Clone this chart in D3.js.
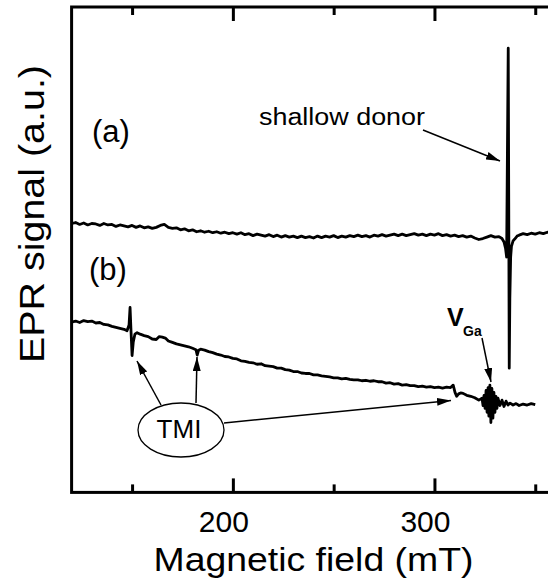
<!DOCTYPE html>
<html>
<head>
<meta charset="utf-8">
<script src="https://cdn.jsdelivr.net/npm/d3@7"></script>
<style>
  body { margin: 0; background: #fff; }
  svg { display: block; }
</style>
</head>
<body>
<div id="chart"></div>
<script>
// x-axis ticks (mT)
const majorTicks = [200, 300];
const minorTicks = [150, 250, 350];

// trace (a): [field mT, signal a.u.]
const traceA = [
  [120, 55.4], [122, 55.6], [124, 55.2], [126, 55.5], [128, 55.1], [130, 55.4], [132, 55.3], [134, 55.0],
  [136, 55.4], [138, 55.1], [140, 55.2], [142, 54.8], [144, 55.1], [146, 54.9], [148, 54.7], [150, 55.0],
  [152, 54.6], [154, 54.9], [156, 54.5], [158, 54.7], [160, 54.4], [162, 54.6], [164, 55.0], [166, 55.2],
  [168, 54.6], [170, 54.4], [172, 54.5], [174, 54.1], [176, 54.3], [178, 53.9], [180, 54.1], [182, 53.7],
  [184, 53.9], [186, 53.6], [188, 53.8], [190, 53.5], [192, 53.7], [194, 53.4], [196, 53.6], [198, 53.3],
  [200, 53.5], [202, 53.2], [204, 53.5], [206, 53.1], [208, 53.3], [210, 52.9], [212, 53.2], [214, 53.0],
  [216, 52.8], [218, 53.1], [220, 52.7], [222, 53.0], [224, 52.6], [226, 52.9], [228, 52.6], [230, 52.8],
  [232, 52.5], [234, 52.8], [236, 52.5], [238, 52.7], [240, 52.4], [242, 52.8], [244, 52.5], [246, 52.8],
  [248, 52.6], [250, 52.9], [252, 52.5], [254, 52.8], [256, 52.6], [258, 52.9], [260, 52.7], [262, 53.0],
  [264, 52.7], [266, 52.9], [268, 52.6], [270, 53.0], [272, 52.8], [274, 53.1], [276, 52.8], [278, 53.0],
  [280, 53.2], [282, 52.9], [284, 53.2], [286, 52.9], [288, 53.1], [290, 53.3], [292, 53.0], [294, 53.2],
  [296, 52.9], [298, 53.2], [300, 53.0], [302, 53.3], [304, 52.9], [306, 53.1], [308, 52.8], [310, 53.0],
  [312, 52.7], [314, 52.9], [316, 52.6], [318, 52.8], [320, 52.4], [322, 52.1], [324, 52.3], [326, 52.6],
  [328, 52.9], [330, 52.6], [332, 52.7], [333.5, 52.3], [334.5, 51.6], [335.3, 50.2], [335.8, 48.5],
  [336.2, 70.0], [336.6, 91.5], [336.85, 60.0], [337.1, 25.6], [337.4, 40.0], [337.8, 48.5], [338.2, 50.7],
  [339, 51.8], [340, 52.3], [341, 52.8], [342, 53.0], [344, 53.3], [346, 53.1], [348, 53.4], [350, 53.2],
  [352, 53.5], [354, 53.3], [356, 53.6], [358, 53.4], [360, 53.5]
];

// trace (b): [field mT, signal a.u.]
const traceB = [
  [120, 35.1], [122, 35.3], [124, 35.0], [126, 35.4], [128, 35.2], [130, 35.3], [132, 34.9], [134, 35.0],
  [136, 34.6], [138, 34.5], [140, 34.2], [142, 34.0], [144, 33.8], [146, 33.6], [147.5, 33.3], [148.5, 34.5],
  [149.0, 38.1], [149.5, 33.0], [150.0, 28.2], [150.6, 31.0], [151.4, 32.6], [152.5, 32.9], [154, 32.6],
  [156, 32.3], [158, 32.1], [160, 31.6], [162, 31.5], [163.5, 32.1], [165, 32.0], [166.5, 31.8], [168, 31.2],
  [170, 30.9], [172, 30.6], [174, 30.4], [176, 30.2], [178, 30.0], [180, 29.7], [181.7, 29.4], [182.3, 28.3],
  [183, 29.3], [184, 29.5], [186, 29.3], [188, 29.0], [190, 28.8], [192, 28.5], [194, 28.3], [196, 28.0],
  [198, 27.9], [200, 27.6], [202, 27.5], [204, 27.1], [206, 27.0], [208, 26.8], [210, 26.7], [212, 26.4],
  [214, 26.5], [216, 26.1], [218, 26.0], [220, 25.9], [222, 25.6], [224, 25.6], [226, 25.3], [228, 25.2],
  [230, 24.9], [232, 24.9], [234, 24.6], [236, 24.5], [238, 24.5], [240, 24.2], [242, 24.2], [244, 24.0],
  [246, 23.9], [248, 23.8], [250, 23.6], [252, 23.6], [254, 23.4], [256, 23.5], [258, 23.3], [260, 23.2],
  [262, 23.2], [264, 23.0], [266, 23.1], [268, 22.9], [270, 23.0], [272, 22.8], [274, 22.8], [276, 22.5],
  [278, 22.6], [280, 22.3], [282, 22.4], [284, 22.1], [286, 22.2], [288, 22.0], [290, 22.0], [292, 21.8],
  [294, 21.9], [296, 21.7], [298, 21.8], [300, 21.6], [302, 21.7], [304, 21.5], [306, 21.7], [308, 21.6],
  [309.3, 22.1], [310.2, 20.6], [311.0, 19.8], [312, 20.3], [313, 20.5], [314.2, 20.4], [316, 20.0],
  [318, 19.8], [320, 19.5], [322, 19.0], [323.6, 19.4], [324.1, 17.9], [324.6, 20.0], [325.1, 17.3],
  [325.6, 21.0], [326.1, 16.5], [326.6, 21.6], [327.0, 15.7], [327.5, 22.1], [328.0, 14.4], [328.5, 21.4],
  [329.0, 15.3], [329.5, 20.6], [330.0, 16.5], [330.5, 19.8], [331.0, 17.3], [331.5, 19.4], [332.5, 17.9],
  [333.5, 19.0], [334.5, 17.7], [335.5, 18.8], [336.5, 18.0], [337.5, 18.4], [339, 18.0], [340.5, 18.3],
  [342, 17.9], [344, 18.2], [346, 18.0], [348, 18.3], [350, 18.1]
];

const W = 548, H = 579;
const plot = { left: 71.6, right: 555.4, top: 7, bottom: 492.4 };
const font = "'Liberation Sans', Arial, sans-serif";

const x = d3.scaleLinear().domain([120, 360]).range([plot.left, plot.right]);
const y = d3.scaleLinear().domain([0, 100]).range([plot.bottom, plot.top]);

const svg = d3.select("#chart")
    .append("svg")
    .attr("width", W)
    .attr("height", H);

// arrow head marker
svg.append("defs").append("marker")
    .attr("id", "head")
    .attr("viewBox", "0 0 14 8")
    .attr("refX", 14)
    .attr("refY", 4)
    .attr("markerWidth", 14)
    .attr("markerHeight", 8)
    .attr("markerUnits", "userSpaceOnUse")
    .attr("orient", "auto")
    .append("path")
    .attr("d", "M0,0 L14,4 L0,8 Z")
    .attr("fill", "#000");

// traces
const line = d3.line()
    .x(d => x(d[0]))
    .y(d => y(d[1]));

[traceA, traceB].forEach(tr => {
    svg.append("path")
        .datum(tr)
        .attr("fill", "none")
        .attr("stroke", "#000")
        .attr("stroke-width", 2.8)
        .attr("stroke-linejoin", "round")
        .attr("d", line);
});

// ticks, bottom and top, pointing inward
function tickAxis(gen, ty, vals, size) {
    const g = svg.append("g")
        .attr("transform", `translate(0,${ty})`)
        .call(gen(x).tickValues(vals).tickSize(size).tickFormat(""));
    g.select(".domain").remove();
    g.selectAll(".tick line").attr("stroke", "#000").attr("stroke-width", 3);
    return g;
}
tickAxis(d3.axisBottom, plot.bottom, majorTicks, -14);
tickAxis(d3.axisBottom, plot.bottom, minorTicks, -8);
tickAxis(d3.axisTop, plot.top, majorTicks, -14);
tickAxis(d3.axisTop, plot.top, minorTicks, -8);

// tick labels
svg.append("g")
    .selectAll("text")
    .data(majorTicks)
    .join("text")
    .attr("x", d => x(d) - 9)
    .attr("y", 532)
    .attr("text-anchor", "middle")
    .style("font-family", font)
    .style("font-size", "30px")
    .text(d => d);

// frame
svg.append("rect")
    .attr("x", plot.left)
    .attr("y", plot.top)
    .attr("width", plot.right - plot.left)
    .attr("height", plot.bottom - plot.top)
    .attr("fill", "none")
    .attr("stroke", "#000")
    .attr("stroke-width", 3);

// axis titles
svg.append("text")
    .attr("x", 313.5)
    .attr("y", 571)
    .attr("text-anchor", "middle")
    .attr("textLength", 320)
    .attr("lengthAdjust", "spacingAndGlyphs")
    .style("font-family", font)
    .style("font-size", "34px")
    .text("Magnetic field (mT)");

svg.append("text")
    .attr("transform", "translate(44,214) rotate(-90)")
    .attr("text-anchor", "middle")
    .attr("textLength", 298)
    .attr("lengthAdjust", "spacingAndGlyphs")
    .style("font-family", font)
    .style("font-size", "35px")
    .text("EPR signal (a.u.)");

// labels
const txt = (tx, ty, s, size, extra) => {
    const t = svg.append("text")
        .attr("x", tx).attr("y", ty)
        .style("font-family", font)
        .style("font-size", size + "px")
        .text(s);
    if (extra) extra(t);
    return t;
};
txt(92, 142, "(a)", 31);
txt(89, 280, "(b)", 31);
txt(259, 125, "shallow donor", 23, t => t.attr("textLength", 166).attr("lengthAdjust", "spacingAndGlyphs"));
txt(447, 326, "V", 25, t => t.style("font-weight", "bold"));
txt(463, 336, "Ga", 14, t => t.style("font-weight", "bold"));

// TMI ellipse
svg.append("ellipse")
    .attr("cx", 181).attr("cy", 430)
    .attr("rx", 43).attr("ry", 27)
    .attr("fill", "none")
    .attr("stroke", "#000")
    .attr("stroke-width", 1.3);
txt(179, 438, "TMI", 26, t => t.attr("text-anchor", "middle"));

// arrows
const arrows = [
    [423, 130, 500, 161],
    [482, 338, 491, 382],
    [161, 405, 137, 361],
    [196, 403, 197, 357],
    [224, 423, 451, 400.5]
];
svg.append("g")
    .selectAll("line")
    .data(arrows)
    .join("line")
    .attr("x1", d => d[0]).attr("y1", d => d[1])
    .attr("x2", d => d[2]).attr("y2", d => d[3])
    .attr("stroke", "#000")
    .attr("stroke-width", 1.5)
    .attr("marker-end", "url(#head)");
</script>
</body>
</html>
